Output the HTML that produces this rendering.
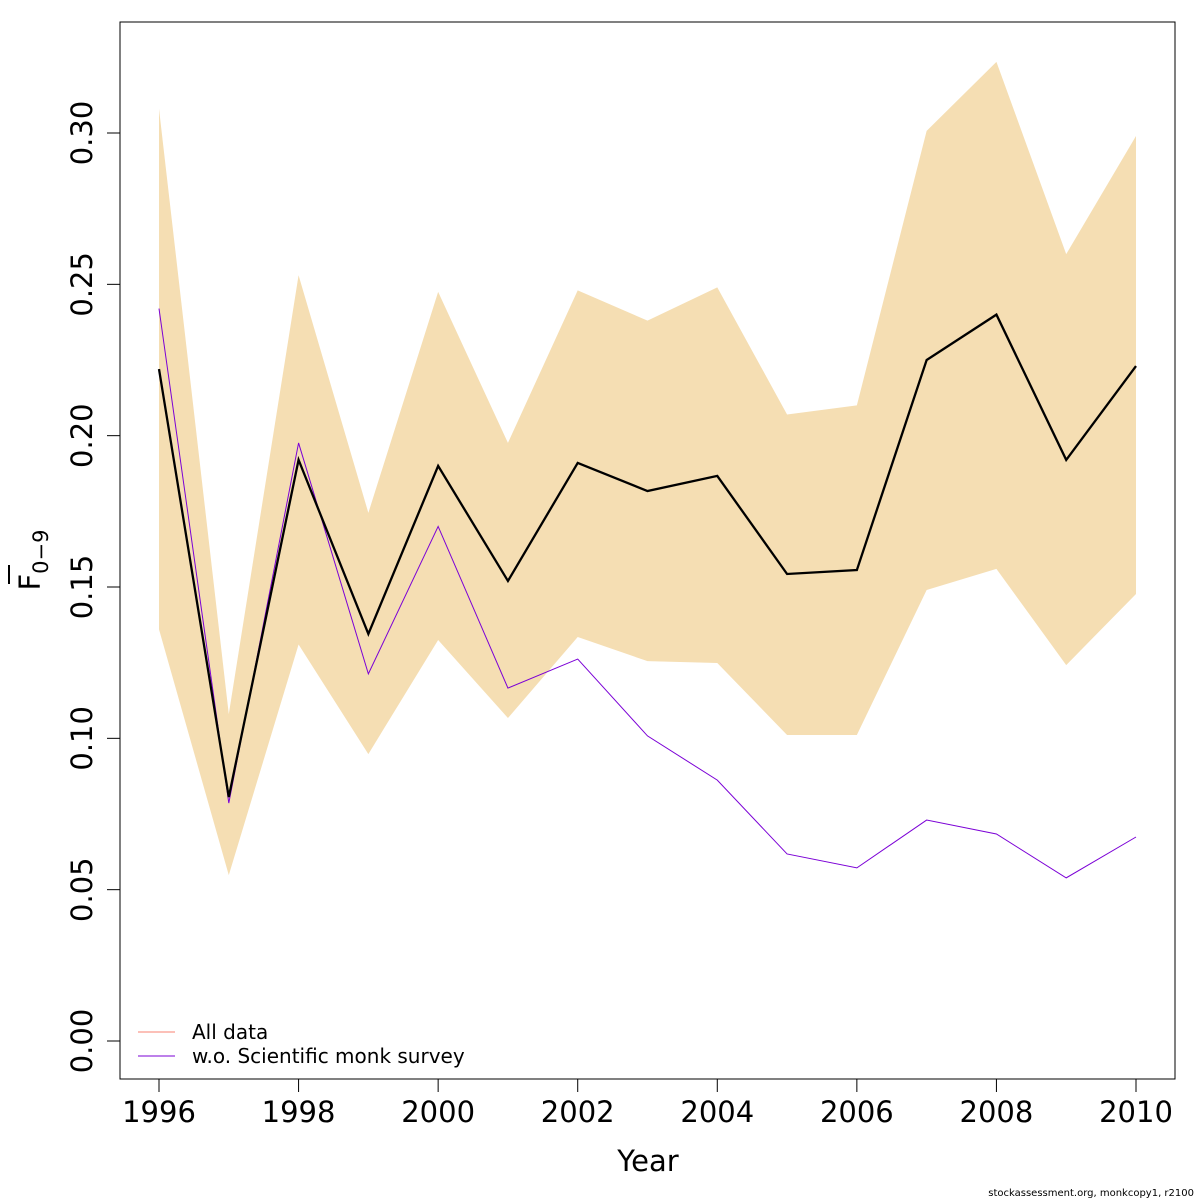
<!DOCTYPE html>
<html><head><meta charset="utf-8"><style>
html,body{margin:0;padding:0;background:#fff;}
svg{display:block;font-family:"DejaVu Sans","Liberation Sans",sans-serif;}
</style></head><body>
<svg id="chart" width="1200" height="1200" viewBox="0 0 1200 1200" xmlns="http://www.w3.org/2000/svg">
<g id="band"></g>
<g id="lines"></g>
<rect x="120" y="22" width="1055" height="1057" fill="none" stroke="#000" stroke-width="1"/>
<g id="xaxis"></g>
<g id="yaxis"></g>
<text x="648" y="1171" font-size="29" text-anchor="middle">Year</text>
<g transform="translate(40,560) rotate(-90)">
<text x="0" y="0" font-size="29" text-anchor="middle">F<tspan font-size="21" dy="8">0−9</tspan></text>
<line x1="-24" y1="-31" x2="-5" y2="-31" stroke="#000" stroke-width="2"/>
</g>
<g>
<line x1="138" y1="1032" x2="175" y2="1032" stroke="#fa8072" stroke-width="1"/>
<text x="192" y="1039" font-size="20">All data</text>
<line x1="138" y1="1056" x2="175" y2="1056" stroke="#7b00d6" stroke-width="1"/>
<text x="192" y="1063" font-size="20">w.o. Scientific monk survey</text>
</g>
<text x="1194" y="1196" font-size="10" text-anchor="end">stockassessment.org, monkcopy1, r2100</text>
</svg>
<script>
const years=[1996,1997,1998,1999,2000,2001,2002,2003,2004,2005,2006,2007,2008,2009,2010];
const estimate=[0.222,0.0806,0.192,0.1345,0.190,0.152,0.191,0.1817,0.1867,0.1543,0.1556,0.225,0.240,0.192,0.223];
const upper=[0.308,0.108,0.253,0.1745,0.2475,0.1976,0.248,0.238,0.249,0.207,0.210,0.3007,0.3235,0.260,0.299];
const lower=[0.136,0.0548,0.131,0.0948,0.1325,0.1067,0.1335,0.1255,0.1249,0.1011,0.1011,0.149,0.156,0.1242,0.1477];
const woSurvey=[0.242,0.0786,0.1976,0.1213,0.170,0.1166,0.1262,0.1008,0.0862,0.0618,0.0572,0.073,0.0684,0.0539,0.0674];
const xTicks=[1996,1998,2000,2002,2004,2006,2008,2010];
const yTicks=[0,0.05,0.10,0.15,0.20,0.25,0.30];
const yTickLabels=["0.00","0.05","0.10","0.15","0.20","0.25","0.30"];
const NS='http://www.w3.org/2000/svg';
const X=y=>159+(y-1996)*(1136-159)/14;
const Y=v=>1041-v*(1041-133)/0.30;
function mk(t,a,p){const e=document.createElementNS(NS,t);for(const k in a)e.setAttribute(k,a[k]);p.appendChild(e);return e;}
const pts=(arr)=>arr.map((v,i)=>X(years[i])+','+Y(v)).join(' ');
const band=mk('polygon',{points:pts(upper)+' '+lower.map((v,i)=>X(years[i])+','+Y(v)).reverse().join(' '),fill:'#f5deb3'},document.getElementById('band'));


const L=document.getElementById('lines');
const red=mk('polyline',{points:pts(estimate),fill:'none',stroke:'#fa8072','stroke-width':1},L);


const pur=mk('polyline',{points:pts(woSurvey),fill:'none',stroke:'#7b00d6','stroke-width':1},L);


const blk=mk('polyline',{points:pts(estimate),fill:'none',stroke:'#000','stroke-width':2.3},L);


const xa=document.getElementById('xaxis');
xTicks.forEach(t=>{const g=mk('g',{},xa);


mk('line',{x1:X(t),x2:X(t),y1:1079,y2:1092,stroke:'#000'},g);
const tx=mk('text',{x:X(t),y:1122,'font-size':29,'text-anchor':'middle'},g);tx.textContent=t;});
const ya=document.getElementById('yaxis');
yTicks.forEach((t,i)=>{const g=mk('g',{},ya);


mk('line',{x1:107,x2:120,y1:Y(t),y2:Y(t),stroke:'#000'},g);
const tx=mk('text',{x:0,y:0,'font-size':29,'text-anchor':'middle',transform:'translate(92,'+Y(t)+') rotate(-90)'},g);tx.textContent=yTickLabels[i];});
</script>
</body></html>
